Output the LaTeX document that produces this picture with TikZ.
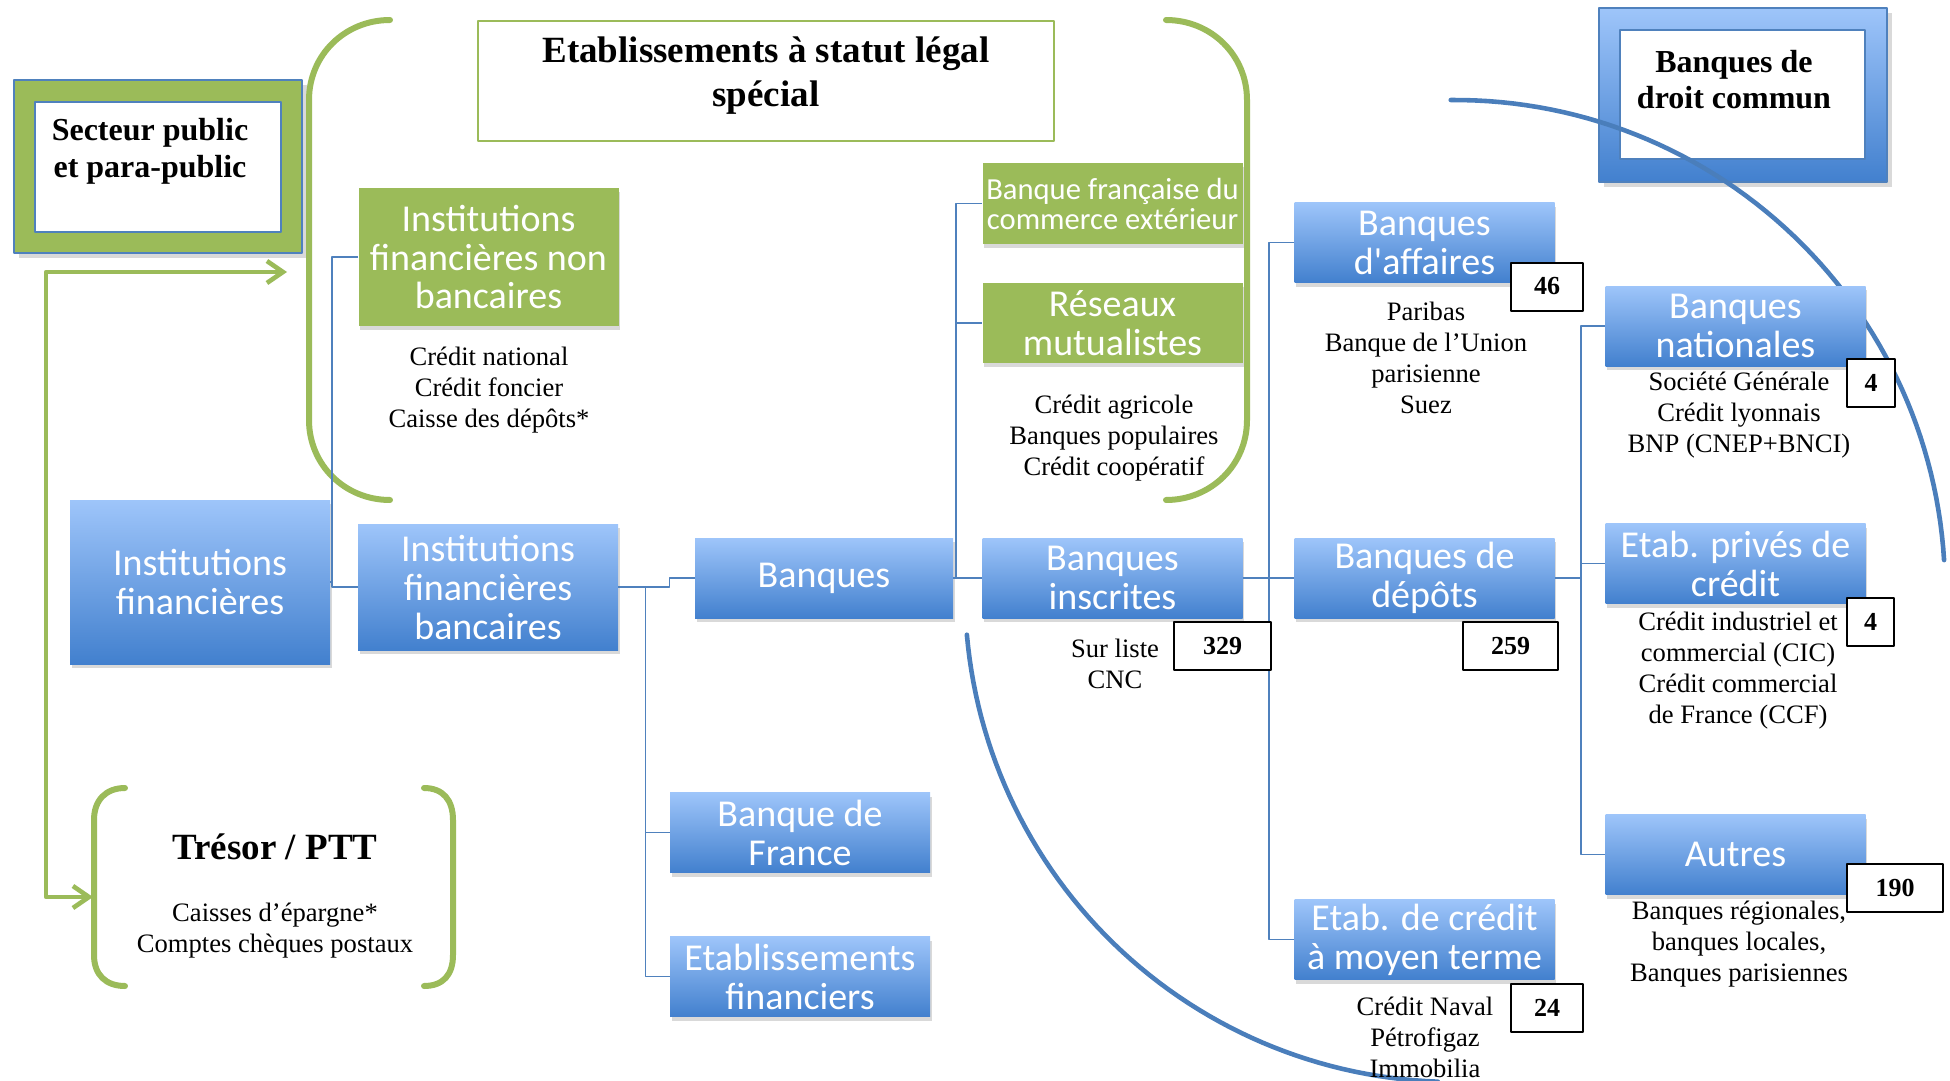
\documentclass[tikz,border=0pt]{standalone}
\usepackage{fontspec}
\setmainfont{Liberation Serif}
\newfontfamily\boxfont{Carlito}
\usetikzlibrary{arrows.meta,shadows}
\definecolor{grn}{RGB}{155,187,89}
\definecolor{linkblue}{RGB}{79,129,189}
\definecolor{bluetop}{RGB}{158,197,250}
\definecolor{bluebot}{RGB}{66,128,206}
\definecolor{arcblue}{RGB}{74,126,187}
\tikzset{
  tbox/.style={text=white,align=center,inner sep=0pt,minimum width=130pt,minimum height=40pt,
    font=\boxfont\fontsize{19}{19.5}\selectfont,
    drop shadow={shadow xshift=0.8pt,shadow yshift=-2pt,opacity=0.3}},
  bbox/.style={tbox,top color=bluetop,bottom color=bluebot},
  gbox/.style={tbox,fill=grn},
  lst/.style={align=center,inner sep=0pt,font=\fontsize{13.3}{15.5}\selectfont},
  num/.style={draw=black,fill=white,line width=1pt,inner sep=0pt,minimum width=24pt,minimum height=24pt,
    font=\bfseries\fontsize{13}{15}\selectfont},
  conn/.style={draw=linkblue,line width=0.7pt},
  brak/.style={draw=grn,line width=3pt,line cap=round},
  arcl/.style={draw=arcblue,line width=2.3pt,line cap=round},
  garrow/.style={draw=grn,line width=2.3pt,{Straight Barb[length=8pt,width=11pt]}-{Straight Barb[length=8pt,width=11pt]}}
}
\begin{document}
\begin{tikzpicture}[x=0.5pt,y=-0.5pt,line join=round]
\useasboundingbox (0,0) rectangle (1950,1081);
% public sector and common-law banks frames
\node[draw=linkblue,fill=grn,line width=0.8pt,minimum width=144pt,minimum height=86.5pt,drop shadow={opacity=0.3}] (secout) at (158,166.5) {};
\node[draw=linkblue,fill=white,line width=0.8pt,minimum width=123pt,minimum height=65pt] (secin) at (158,167) {};
\node[align=center,font=\bfseries\fontsize{16}{18.5}\selectfont] (sect) at (150,151) {Secteur public\\et para-public};
\node[top color=bluetop,bottom color=bluebot,draw=linkblue,line width=0.6pt,minimum width=144pt,minimum height=87pt,drop shadow={opacity=0.3}] (droit) at (1743,95) {};
\node[draw=linkblue,fill=white,line width=0.8pt,minimum width=122.5pt,minimum height=64.5pt] (droitin) at (1742.5,94.5) {};
\node[align=center,font=\bfseries\fontsize{16}{18}\selectfont] (droitt) at (1734,80) {Banques de\\droit commun};
\node[draw=grn,line width=1pt,minimum width=288pt,minimum height=60pt] (special) at (766,81) {};
\node[align=center,font=\bfseries\fontsize{18.5}{22}\selectfont] (specialt) at (766,76) {Etablissements à statut légal\\spécial};
% arcs and brackets
\draw[arcl] plot[domain=-90.5:-3.5,samples=60] ({1455+490*cos(\x)},{590+490*sin(\x)});
\draw[arcl] plot[domain=175:92,samples=60] ({1455+490*cos(\x)},{592+490*sin(\x)});
\draw[brak] (390,20) .. controls (345,20) and (309,55) .. (309,100) -- (309,420) .. controls (309,465) and (345,500) .. (390,500);
\draw[brak] (1166,20) .. controls (1211,20) and (1247,55) .. (1247,100) -- (1247,420) .. controls (1247,465) and (1211,500) .. (1166,500);
\draw[brak] (125,788) .. controls (106,788) and (94,800) .. (94,820) -- (94,955) .. controls (94,975) and (106,986) .. (125,986);
\draw[brak] (424,788) .. controls (443,788) and (453,800) .. (453,820) -- (453,955) .. controls (453,975) and (443,986) .. (424,986);
\coordinate (brkl) at (287,272);
\coordinate (gcorner) at (46,897);
\coordinate (trl) at (93,897);
\draw[garrow] (brkl) -| (gcorner) -- (trl);
% boxes
\node[bbox,minimum height=82pt] (finst) at (200,582) {Institutions\\financières};
\node[gbox,minimum height=69pt] (nonbanc) at (488.5,257) {Institutions\\financières non\\bancaires};
\node[bbox,minimum height=63pt] (banc) at (488,587) {Institutions\\financières\\bancaires};
\node[bbox,minimum width=129pt] (banq) at (824,578) {Banques};
\node[bbox] (bdf) at (800,832.5) {Banque de\\France};
\node[bbox] (etfin) at (800,976.5) {Etablissements\\financiers};
\node[gbox,font=\boxfont\fontsize{15.3}{15}\selectfont] (bfce) at (1112.5,203.5) {Banque française du\\commerce extérieur};
\node[gbox] (mutu) at (1112.5,323) {Réseaux\\mutualistes};
\node[bbox] (inscr) at (1112.5,578) {Banques\\inscrites};
\node[bbox] (aff) at (1424.5,242.5) {Banques\\d'affaires};
\node[bbox] (depo) at (1424.5,578) {Banques de\\dépôts};
\node[bbox] (moyen) at (1424.5,939.5) {Etab. de crédit\\à moyen terme};
\node[bbox] (natio) at (1735.5,326) {Banques\\nationales};
\node[bbox] (prive) at (1735.5,563.5) {Etab. privés de\\crédit};
\node[bbox] (autres) at (1735.5,854.5) {Autres};
% connectors
\draw[conn] (nonbanc.west) -- ++(-26,0) coordinate (t1) |- (banc.west);
\draw[conn] (finst.east) -- (finst.east -| t1);
\draw[conn] (banc.east) -- ++(27,0) coordinate (t2) |- (etfin.west);
\draw[conn] (t2) |- (bdf.west);
\draw[conn] (t2) -- ++(24,0) |- (banq.west);
\draw[conn] (banq.east) -- (inscr.west);
\draw[conn] (inscr.west) ++(-26,0) coordinate (t3) |- (bfce.west);
\draw[conn] (t3) |- (mutu.west);
\draw[conn] (inscr.east) -- (depo.west);
\draw[conn] (depo.west) ++(-25,0) coordinate (t4) |- (aff.west);
\draw[conn] (t4) |- (moyen.west);
\draw[conn,line width=1.2pt] (depo.east) -- ++(26,0) coordinate (t5);
\draw[conn] (t5) |- (natio.west);
\draw[conn] (t5) |- (prive.west);
\draw[conn] (t5) |- (autres.west);
% lists
\node[lst] (nonbancl) at (489,390) {Crédit national\\Crédit foncier\\Caisse des dépôts*};
\node[lst] (mutul) at (1114,438) {Crédit agricole\\Banques populaires\\Crédit coopératif};
\node[lst] (inscrl) at (1115,663.5) {Sur liste\\CNC};
\node[lst] (affl) at (1426,358) {Paribas\\Banque de l’Union\\parisienne\\Suez};
\node[lst] (moyenl) at (1425,1037) {Crédit Naval\\Pétrofigaz\\Immobilia};
\node[lst] (natiol) at (1739,415) {Société Générale\\Crédit lyonnais\\BNP (CNEP+BNCI)};
\node[lst] (privel) at (1738,670.5) {Crédit industriel et\\commercial (CIC)\\Crédit commercial\\de France (CCF)};
\node[lst] (autresl) at (1739,944.5) {Banques régionales,\\banques locales,\\Banques parisiennes};
\node[font=\bfseries\fontsize{18.5}{22}\selectfont] (tresor) at (275,847) {Trésor / PTT};
\node[lst] (tresorl) at (275,930.5) {Caisses d’épargne*\\Comptes chèques postaux};
% counts
\foreach \nm/\t/\x/\y/\w in {n329/329/1222.5/646/48.5,n259/259/1510.5/646/47.5,n46/46/1547/286.5/36,n24/24/1547/1008/36,n4a/4/1871/383/24,n4b/4/1870.5/621.5/23.5,n190/190/1895/887.5/48}
  \node[num,minimum width=\w pt] (\nm) at (\x,\y) {\t};
\end{tikzpicture}
\end{document}
